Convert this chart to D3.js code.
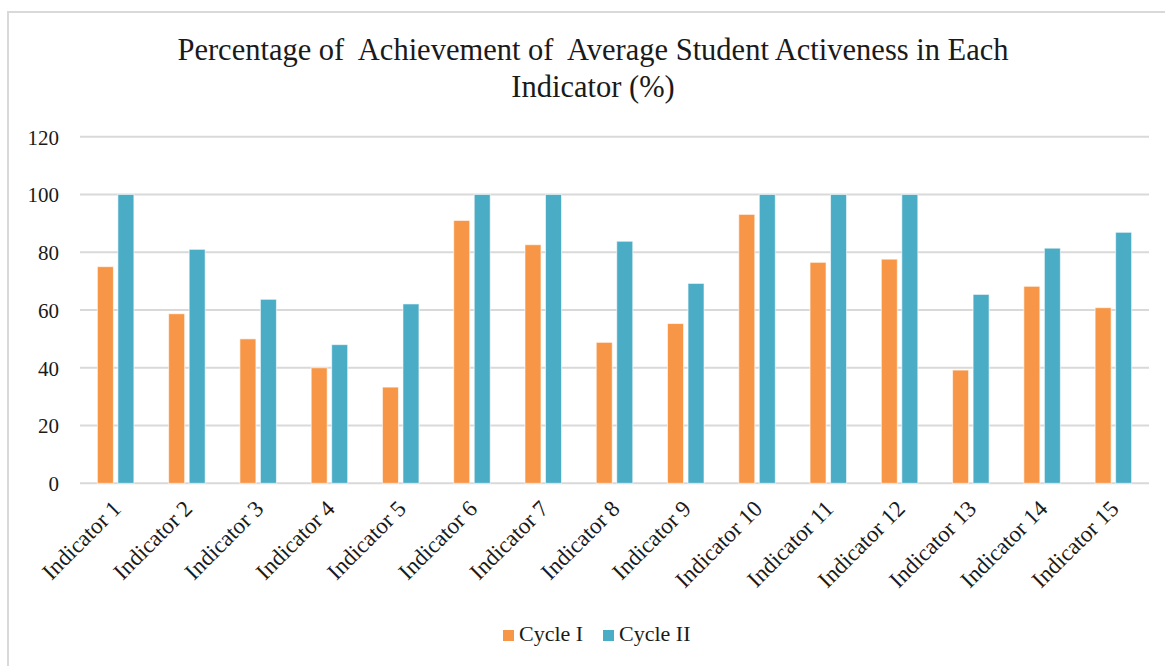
<!DOCTYPE html>
<html>
<head>
<meta charset="utf-8">
<script src="https://cdn.jsdelivr.net/npm/d3@7"></script>
<style>
  html, body { margin: 0; padding: 0; background: #fff; }
  svg { display: block; }
  text { font-family: "Liberation Serif", "Times New Roman", serif; fill: #1a1a1a; }
</style>
</head>
<body>
<svg id="chart" width="1165" height="666"></svg>
<script>
const categories = ["Indicator 1","Indicator 2","Indicator 3","Indicator 4","Indicator 5",
  "Indicator 6","Indicator 7","Indicator 8","Indicator 9","Indicator 10",
  "Indicator 11","Indicator 12","Indicator 13","Indicator 14","Indicator 15"];
const seriesNames = ["Cycle I", "Cycle II"];
const cycle1 = [75, 58.7, 50, 40, 33.3, 91, 82.6, 48.8, 55.3, 93.1, 76.5, 77.6, 39.2, 68.2, 60.8];
const cycle2 = [100, 81, 63.7, 48, 62.1, 100, 100, 83.8, 69.2, 100, 100, 100, 65.4, 81.4, 86.9];
const yTicks = [0, 20, 40, 60, 80, 100, 120];
const titleLines = ["Percentage of  Achievement of  Average Student Activeness in Each", "Indicator (%)"];
const colors = ["#F79646", "#4BACC6"];

const svg = d3.select("#chart");

// chart border (left/top visible)
svg.append("rect")
  .attr("x", 8).attr("y", 12)
  .attr("width", 1170).attr("height", 670)
  .attr("fill", "none").attr("stroke", "#d9d9d9").attr("stroke-width", 2);

const plot = { left: 80, right: 1149, top: 136.7, bottom: 483.3 };

const x = d3.scaleBand().domain(categories).range([plot.left, plot.right]).padding(0);
const xs = d3.scaleBand().domain(seriesNames).range([-18.25, 18.25]).paddingInner(0.22);
const y = d3.scaleLinear().domain([0, 120]).range([plot.bottom, plot.top]);

// gridlines
svg.append("g")
  .selectAll("line").data(yTicks).join("line")
  .attr("x1", plot.left).attr("x2", plot.right)
  .attr("y1", d => y(d)).attr("y2", d => y(d))
  .attr("stroke", "#d9d9d9").attr("stroke-width", 2);

// y axis labels
const yAxis = d3.axisLeft(y).tickValues(yTicks).tickSize(0).tickPadding(0);
const yg = svg.append("g").attr("transform", `translate(59,0)`).call(yAxis);
yg.select(".domain").remove();
yg.selectAll("text")
  .attr("font-family", "Liberation Serif, serif")
  .attr("font-size", 21).attr("fill", "#1a1a1a").attr("dy", "0.35em");

// bars
const data = categories.map((c, i) => ({ cat: c, vals: [cycle1[i], cycle2[i]] }));
const groups = svg.append("g").selectAll("g").data(data).join("g")
  .attr("transform", d => `translate(${x(d.cat) + x.bandwidth() / 2},0)`);
groups.selectAll("rect")
  .data(d => d.vals.map((v, k) => ({ s: seriesNames[k], v, k })))
  .join("rect")
  .attr("x", d => xs(d.s))
  .attr("width", xs.bandwidth())
  .attr("y", d => y(d.v))
  .attr("height", d => y(0) - y(d.v))
  .attr("fill", d => colors[d.k])
  .attr("stroke", "#ffffff").attr("stroke-opacity", 0.6).attr("stroke-width", 1);

// x axis labels
const xAxis = d3.axisBottom(x).tickSize(0).tickPadding(0);
const xg = svg.append("g").attr("transform", `translate(0,${plot.bottom})`).call(xAxis);
xg.select(".domain").remove();
xg.selectAll("text")
  .attr("font-family", "Liberation Serif, serif")
  .attr("font-size", 23).attr("fill", "#1a1a1a")
  .attr("text-anchor", "end")
  .attr("transform", "translate(1,21) rotate(-45)")
  .attr("x", 0).attr("y", 0).attr("dy", "0.35em");

// title
svg.append("g").selectAll("text").data(titleLines).join("text")
  .attr("x", 593).attr("y", (d, i) => 60 + i * 37)
  .attr("text-anchor", "middle")
  .attr("font-size", 30.5)
  .style("white-space", "pre")
  .attr("xml:space", "preserve")
  .text(d => d);

// legend
const legendItems = [
  { name: seriesNames[0], color: colors[0], x: 503 },
  { name: seriesNames[1], color: colors[1], x: 603 }
];
const lg = svg.append("g").selectAll("g").data(legendItems).join("g")
  .attr("transform", d => `translate(${d.x},630)`);
lg.append("rect").attr("width", 11).attr("height", 11).attr("fill", d => d.color);
lg.append("text").attr("x", 16).attr("y", 11).attr("font-size", 22).text(d => d.name);
</script>
</body>
</html>
